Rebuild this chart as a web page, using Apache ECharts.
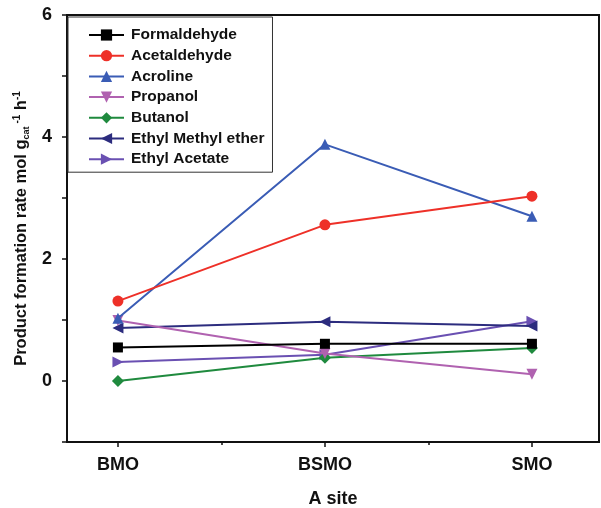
<!DOCTYPE html>
<html>
<head>
<meta charset="utf-8">
<script src="https://cdn.jsdelivr.net/npm/echarts@6/dist/echarts.min.js"></script>
<style>html,body{margin:0;padding:0;background:#fff;}#c{width:601px;height:508px;}</style>
</head>
<body>
<div id="c"></div>
<script>
const categories = ['BMO', 'BSMO', 'SMO'];
const xPositions = [1, 2, 3];
const seriesNames = ['Formaldehyde', 'Acetaldehyde', 'Acroline', 'Propanol', 'Butanol', 'Ethyl Methyl ether', 'Ethyl Acetate'];
const formaldehyde = [0.55, 0.61, 0.61];
const acetaldehyde = [1.31, 2.56, 3.03];
const acroline = [1.03, 3.88, 2.70];
const propanol = [0.99, 0.45, 0.11];
const butanol = [0.00, 0.38, 0.54];
const ethylMethylEther = [0.87, 0.97, 0.90];
const ethylAcetate = [0.31, 0.43, 0.98];
const yTicks = [-1, 0, 1, 2, 3, 4, 5, 6];

const values = [formaldehyde, acetaldehyde, acroline, propanol, butanol, ethylMethylEther, ethylAcetate];
const colors = ['#000000', '#ee3028', '#3a5cb5', '#b062b0', '#1f8a3e', '#2c2c7e', '#6a50b2'];
const symbols = ['rect', 'circle', 'triangle', 'triangle', 'diamond', 'triangle', 'triangle'];
const rotations = [0, 0, 0, 180, 0, 90, -90];
const sizes = [10, 11, 11, 11, 12, 11, 11];

const chart = echarts.init(document.getElementById('c'));
const FONT = 'Liberation Sans, Arial, sans-serif';

const series = seriesNames.map((n, i) => ({
  name: n,
  type: 'line',
  xAxisIndex: 0,
  data: xPositions.map((x, j) => [x, values[i][j]]),
  symbol: symbols[i],
  symbolRotate: rotations[i],
  symbolSize: sizes[i],
  lineStyle: { color: colors[i], width: 2 },
  itemStyle: { color: colors[i] },
  z: 10 - i,
  animation: false
}));

chart.setOption({
  animation: false,
  grid: { left: 67, top: 15, right: 2, bottom: 66, outerBoundsMode: 'none', containLabel: false, show: true, borderColor: '#111', borderWidth: 2, backgroundColor: 'transparent' },
  legend: {
    orient: 'vertical',
    left: 68, top: 17,
    padding: [10, 8, 5, 20],
    itemWidth: 35, itemHeight: 14,
    itemGap: 4.7,
    borderColor: '#333', borderWidth: 1,
    backgroundColor: '#fff',
    textStyle: { fontFamily: FONT, fontWeight: 'bold', fontSize: 15.5, lineHeight: 16, color: '#111', padding: [0, 0, 0, 2] },
    data: seriesNames
  },
  xAxis: [{
    type: 'value',
    min: 0.754, max: 3.324,
    position: 'bottom',
    name: 'A site',
    nameLocation: 'middle',
    nameGap: 48,
    nameTextStyle: { fontFamily: FONT, fontWeight: 'bold', fontSize: 18, color: '#111' },
    axisLine: { show: true, onZero: false, lineStyle: { color: '#111', width: 2 } },
    axisTick: { show: true, length: 5, lineStyle: { color: '#111', width: 1.5 }, customValues: xPositions },
    axisLabel: {
      fontFamily: FONT, fontWeight: 'bold', fontSize: 18, color: '#111', margin: 14,
      customValues: xPositions,
      formatter: v => categories[xPositions.indexOf(Math.round(v))] || ''
    },
    splitLine: { show: false }
  }, {
    type: 'value',
    min: 0.754, max: 3.324,
    position: 'bottom',
    axisLine: { show: false, onZero: false },
    axisTick: { show: true, length: 3, lineStyle: { color: '#111', width: 1.5 }, customValues: [1.5, 2.5] },
    axisLabel: { show: false },
    splitLine: { show: false }
  }],
  yAxis: {
    type: 'value',
    min: -1, max: 6, interval: 1,
    name: '{n|Product formation rate mol g}{sub|cat}{sup| -1}{n| h}{sup|-1}',
    nameLocation: 'middle',
    nameGap: 31,
    nameTextStyle: {
      rich: {
        n: { fontFamily: FONT, fontWeight: 'bold', fontSize: 16.5, color: '#111' },
        sub: { fontFamily: FONT, fontWeight: 'bold', fontSize: 9, color: '#111', verticalAlign: 'bottom', padding: [9, 0, 0, 0] },
        sup: { fontFamily: FONT, fontWeight: 'bold', fontSize: 10, color: '#111', verticalAlign: 'top', padding: [0, 0, 9, 0] }
      }
    },
    axisLine: { show: true, onZero: false, lineStyle: { color: '#111', width: 2 } },
    axisTick: { show: true, length: 5, lineStyle: { color: '#111', width: 1.5 } },
    axisLabel: {
      fontFamily: FONT, fontWeight: 'bold', fontSize: 18, color: '#111', margin: 15,
      formatter: v => (Math.round(v) % 2 === 0 ? String(Math.round(v)) : '')
    },
    splitLine: { show: false }
  },
  series: series
});
</script>
</body>
</html>
